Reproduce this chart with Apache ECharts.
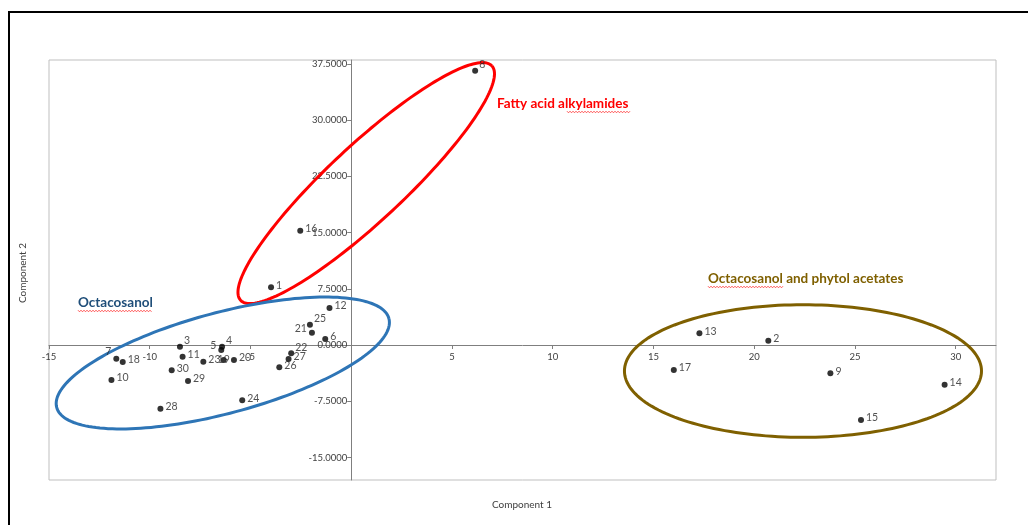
<!DOCTYPE html>
<html>
<head>
<meta charset="utf-8">
<title>PCA score plot</title>
<script src="https://cdn.jsdelivr.net/npm/echarts@6/dist/echarts.min.js"></script>
<style>
  html, body { margin: 0; padding: 0; background: #fff; }
  #chart { width: 1028px; height: 525px; }
</style>
</head>
<body>
<div id="chart"></div>
<script>
// Sample identifiers and their PCA scores
const sampleIds = ['1','2','3','4','5','6','7','8','9','10',
                   '11','12','13','14','15','16','17','18','19','20',
                   '21','22','23','24','25','26','27','28','29','30'];
const component1 = [-3.98, 20.70, -8.50, -6.41, -6.45, -1.29, -11.66, 6.15, 23.78, -11.90,
                    -8.37, -1.08, 17.28, 29.45, 25.30, -2.53, 16.01, -11.34, -6.33, -5.82,
                    -1.95, -2.98, -7.34, -5.41, -2.05, -3.57, -3.11, -9.47, -8.10, -8.91];
const component2 = [7.69, 0.57, -0.22, -0.22, -0.67, 0.80, -1.83, 36.56, -3.78, -4.66,
                    -1.55, 4.93, 1.56, -5.29, -10.00, 15.23, -3.33, -2.27, -2.00, -2.00,
                    1.64, -1.11, -2.22, -7.37, 2.71, -2.98, -1.87, -8.49, -4.80, -3.38];

// Axis ranges and tick values
const xRange = [-15, 32];
const yRange = [-18, 38];
const xTicks = [-15, -10, -5, 0, 5, 10, 15, 20, 25, 30];
const xTickLabels = [-15, -10, -5, 5, 10, 15, 20, 25, 30];
const yTicks = [-15, -7.5, 0, 7.5, 15, 22.5, 30, 37.5];

// Group outlines: centre plus two conjugate half-axis vectors, in score units
const groups = [
  { name: 'Fatty acid alkylamides', color: '#ff0000',
    center: [0.744, 21.59], u: [6.235, 15.63], v: [1.285, -3.705] },
  { name: 'Octacosanol', color: '#2e75b6',
    center: [-6.374, -2.40], u: [8.244, 5.931], v: [0.647, -6.49] },
  { name: 'Octacosanol and phytol acetates', color: '#7f6000',
    center: [22.42, -3.47], u: [8.86, 0], v: [0, 8.84] }
];

// Label placement tweaks for crowded points
const labelTopRight = ['3', '4', '22', '25', '8'];
const labelLeft = ['5', '7', '21'];
const labelCentered = ['19'];

const points = sampleIds.map((id, i) => {
  const item = { name: id, value: [component1[i], component2[i]] };
  if (labelLeft.includes(id)) {
    item.label = { position: 'left', distance: 2, offset: [0, id === '7' ? -7 : -4] };
  } else if (labelTopRight.includes(id)) {
    item.label = { position: 'right', distance: 1, offset: [0, -6] };
  } else if (labelCentered.includes(id)) {
    item.label = { position: 'inside', offset: [0, 0] };
  }
  return item;
});

// Plot area in pixels
const W = 1028, H = 525;
const grid = { left: 49, right: 32, top: 60, bottom: 45 };
const plotW = W - grid.left - grid.right;
const plotH = H - grid.top - grid.bottom;
// Both axes cross at the origin, so shift them from the plot edges to zero
const yAxisShift = -((0 - xRange[0]) / (xRange[1] - xRange[0])) * plotW;
const xAxisShift = -((0 - yRange[0]) / (yRange[1] - yRange[0])) * plotH;

// Red spell-check squiggle under a run of text
function squiggle(x0, x1, y) {
  const pts = [];
  let up = true;
  for (let x = x0; x <= x1; x += 1.5) {
    pts.push([x, up ? y - 0.8 : y + 0.8]);
    up = !up;
  }
  return { type: 'polyline', z: 101, silent: true, shape: { points: pts },
           style: { stroke: '#ff3030', lineWidth: 0.8, fill: null } };
}

const chart = echarts.init(document.getElementById('chart'), null, { renderer: 'canvas' });

const axisFont = { fontFamily: 'Lato', fontSize: 9.5, color: '#404040' };
const labelFont = 'bold 13.5px Lato';

const option = {
  animation: false,
  backgroundColor: '#ffffff',
  grid: Object.assign({
    show: true, borderColor: '#bfbfbf', borderWidth: 1, backgroundColor: 'transparent'
  }, grid),
  xAxis: {
    type: 'value', min: xRange[0], max: xRange[1],
    position: 'bottom', offset: xAxisShift,
    axisLine: { onZero: false, lineStyle: { color: '#7f7f7f', width: 1 } },
    axisTick: { show: true, inside: false, length: 4, customValues: xTicks,
                lineStyle: { color: '#7f7f7f' } },
    axisLabel: Object.assign({ margin: 7, customValues: xTickLabels,
                               formatter: v => String(v) }, axisFont),
    splitLine: { show: false }
  },
  yAxis: {
    type: 'value', min: yRange[0], max: yRange[1],
    position: 'left', offset: yAxisShift,
    axisLine: { onZero: false, lineStyle: { color: '#7f7f7f', width: 1 } },
    axisTick: { show: true, inside: false, length: 4, customValues: yTicks,
                lineStyle: { color: '#7f7f7f' } },
    axisLabel: Object.assign({ margin: 4, customValues: yTicks,
                               formatter: v => Number(v).toFixed(4) }, axisFont),
    splitLine: { show: false }
  },
  graphic: [
    { type: 'rect', z: 100, silent: true,
      shape: { x: 9, y: 12, width: 1040, height: 540 },
      style: { fill: 'none', stroke: '#000', lineWidth: 2 } },
    { type: 'text', x: 522, y: 505, z: 100,
      style: { text: 'Component 1', font: '10px Lato', fill: '#404040',
               align: 'center', verticalAlign: 'middle' } },
    { type: 'text', x: 23, y: 273, rotation: Math.PI / 2, z: 100,
      style: { text: 'Component 2', font: '10px Lato', fill: '#404040',
               align: 'center', verticalAlign: 'middle' } },
    { type: 'text', x: 497, y: 104, z: 100,
      style: { text: groups[0].name, font: labelFont, fill: '#ff0000',
               align: 'left', verticalAlign: 'middle' } },
    { type: 'text', x: 78, y: 303, z: 100,
      style: { text: groups[1].name, font: labelFont, fill: '#1f4e79',
               align: 'left', verticalAlign: 'middle' } },
    { type: 'text', x: 708, y: 279, z: 100,
      style: { text: groups[2].name, font: labelFont, fill: '#7f6000',
               align: 'left', verticalAlign: 'middle' } },
    squiggle(567, 631, 112),
    squiggle(78, 152, 311),
    squiggle(708, 784, 287)
  ],
  series: [
    {
      type: 'custom',
      name: 'groups',
      silent: true,
      z: 1,
      clip: false,
      data: groups.map(g => g.center),
      renderItem: function (params, api) {
        const g = groups[params.dataIndex];
        const pts = [];
        const steps = 180;
        for (let k = 0; k <= steps; k++) {
          const t = (k / steps) * Math.PI * 2;
          const c = Math.cos(t), s = Math.sin(t);
          pts.push(api.coord([
            g.center[0] + g.u[0] * c + g.v[0] * s,
            g.center[1] + g.u[1] * c + g.v[1] * s
          ]));
        }
        return {
          type: 'polyline',
          shape: { points: pts },
          style: { fill: null, stroke: g.color, lineWidth: 3 }
        };
      }
    },
    {
      type: 'scatter',
      name: 'scores',
      z: 3,
      symbol: 'circle',
      symbolSize: 6,
      itemStyle: { color: '#000000' },
      label: {
        show: true,
        position: 'right',
        distance: 2,
        offset: [0, -2],
        formatter: p => p.name,
        fontFamily: 'Lato',
        fontSize: 10.5,
        color: '#262626'
      },
      data: points
    }
  ]
};

chart.setOption(option);
</script>
</body>
</html>
